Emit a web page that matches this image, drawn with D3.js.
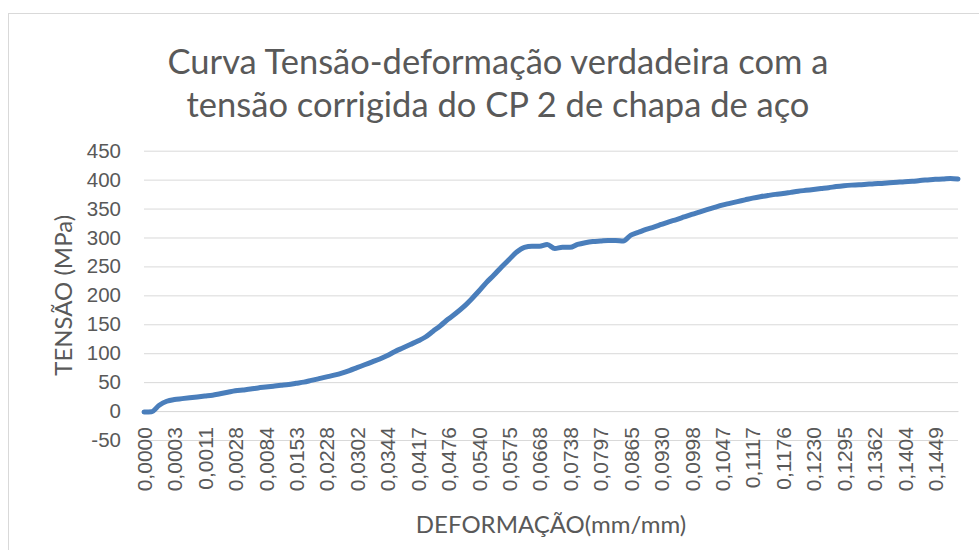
<!DOCTYPE html>
<html>
<head>
<meta charset="utf-8">
<script src="https://cdn.jsdelivr.net/npm/d3@7"></script>
<style>
  body { margin: 0; background: #fff; }
  svg { display: block; font-family: Lato, "Open Sans", sans-serif; }
</style>
</head>
<body>
<svg id="chart" width="979" height="550"></svg>
<script>
// deformação (mm/mm) labels shown every 4th category
const strainLabels = ['0,0000', '0,0003', '0,0011', '0,0028', '0,0084', '0,0153', '0,0228',
    '0,0302', '0,0344', '0,0417', '0,0476', '0,0540', '0,0575', '0,0668', '0,0738', '0,0797',
    '0,0865', '0,0930', '0,0998', '0,1047', '0,1117', '0,1176', '0,1230', '0,1295', '0,1362',
    '0,1404', '0,1449'];
const labelStep = 4;

// tensão corrigida (MPa)
const stress = [
    -1.5, -1, 10, 17, 20, 21.5, 23, 24.5, 26, 27.5,
    30, 32.5, 35, 36.5, 38, 40, 41.5, 43, 44.5, 46,
    48, 50, 53, 56, 59, 62, 65.5, 70, 75, 80,
    85, 90, 96, 103, 109, 115, 121, 128, 138, 148,
    159, 169, 180, 193, 207, 222, 235, 249, 262, 275,
    283, 285, 285, 288, 281, 283, 283, 288, 291, 293,
    294, 295, 295, 294, 304, 309, 314, 318, 322.5, 327,
    331, 335.5, 340, 344, 348, 352, 356, 359, 362, 365,
    368, 370.5, 372.5, 374.5, 376, 378, 380, 381.5, 383, 384.5,
    386, 388, 389.5, 390.5, 391, 392, 393, 393.5, 394.5, 395.5,
    396.5, 397, 398.5, 399.5, 400.5, 401, 402, 401
];

const yTicks = [-50, 0, 50, 100, 150, 200, 250, 300, 350, 400, 450];

const titleLines = ['Curva Tensão-deformação verdadeira com a', 'tensão corrigida do CP 2 de chapa de aço'];
const xTitle = 'DEFORMAÇÃO(mm/mm)';
const yTitle = 'TENSÃO (MPa)';

const textColor = '#595959';
const gridColor = '#d9d9d9';

const svg = d3.select('#chart');

// chart area border
svg.append('rect')
    .attr('x', 8.5)
    .attr('y', 13.5)
    .attr('width', 1000)
    .attr('height', 600)
    .attr('fill', '#fff')
    .attr('stroke', gridColor);

const plot = { left: 144, right: 958, top: 150.7, bottom: 440 };

const xScale = d3.scaleLinear()
    .domain([0, stress.length - 1])
    .range([plot.left, plot.right]);

const yScale = d3.scaleLinear()
    .domain([-50, 450])
    .range([plot.bottom, plot.top]);

// horizontal gridlines + y labels
const yAxis = d3.axisLeft(yScale)
    .tickValues(yTicks)
    .tickSize(-(plot.right - plot.left))
    .tickPadding(23)
    .tickFormat(d => d);

const gy = svg.append('g')
    .attr('transform', `translate(${plot.left},0)`)
    .call(yAxis);
gy.select('.domain').remove();
gy.selectAll('.tick line').attr('stroke', gridColor).attr('stroke-width', 1);
gy.selectAll('text')
    .attr('fill', textColor)
    .style('font-size', '20.5px');

// category axis crossing at 0
const xAxis = d3.axisBottom(xScale)
    .tickValues(strainLabels.map((_, i) => i * labelStep))
    .tickSize(0)
    .tickFormat(i => strainLabels[i / labelStep]);

const gx = svg.append('g')
    .attr('transform', `translate(0,${yScale(0)})`)
    .call(xAxis);
gx.select('.domain').attr('stroke', gridColor);
gx.selectAll('text')
    .attr('transform', 'rotate(-90)')
    .attr('text-anchor', 'end')
    .attr('x', -16)
    .attr('y', 0)
    .attr('dy', '0.35em')
    .attr('fill', textColor)
    .style('font-size', '21px');

const line = d3.line()
    .x((d, i) => xScale(i))
    .y(d => yScale(d))
    .curve(d3.curveMonotoneX);

svg.append('path')
    .datum(stress)
    .attr('fill', 'none')
    .attr('stroke', '#4a7ebb')
    .attr('stroke-width', 5)
    .attr('stroke-linejoin', 'round')
    .attr('stroke-linecap', 'round')
    .attr('d', line);

// titles
svg.append('text')
    .attr('text-anchor', 'middle')
    .attr('fill', textColor)
    .style('font-size', '34.5px')
    .selectAll('tspan')
    .data(titleLines)
    .join('tspan')
    .attr('x', 498)
    .attr('y', (d, i) => 74 + i * 43)
    .text(d => d);

svg.append('text')
    .attr('x', (plot.left + plot.right) / 2)
    .attr('y', 533)
    .attr('text-anchor', 'middle')
    .attr('fill', textColor)
    .style('font-size', '24px')
    .text(xTitle);

svg.append('text')
    .attr('transform', 'rotate(-90)')
    .attr('x', -(plot.top + plot.bottom) / 2)
    .attr('y', 72)
    .attr('text-anchor', 'middle')
    .attr('fill', textColor)
    .style('font-size', '24px')
    .text(yTitle);
</script>
</body>
</html>
